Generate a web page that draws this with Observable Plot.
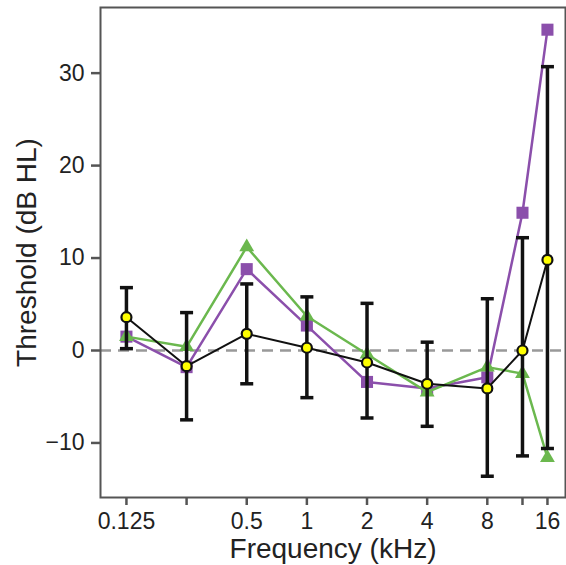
<!DOCTYPE html>
<html>
<head>
<meta charset="utf-8">
<script src="https://cdn.jsdelivr.net/npm/d3@7"></script>
<script src="https://cdn.jsdelivr.net/npm/@observablehq/plot@0.6"></script>
<style>
  html, body { margin: 0; padding: 0; background: #fff; }
  svg { display: block; }
</style>
</head>
<body>
<div id="chart"></div>
<script>
const freqs = [0.125, 0.25, 0.5, 1, 2, 4, 8, 12, 16];
const purpleVals = [1.5, -1.8, 8.8, 2.7, -3.4, -4.1, -2.9, 14.9, 34.7];
const greenVals = [1.5, 0.4, 11.2, 3.7, -0.4, -4.5, -1.8, -2.5, -11.6];
const meanVals = [3.6, -1.7, 1.8, 0.3, -1.3, -3.6, -4.1, 0.0, 9.8];
const errHigh = [6.8, 4.1, 7.2, 5.8, 5.1, 0.9, 5.6, 12.2, 30.7];
const errLow = [0.2, -7.5, -3.6, -5.1, -7.3, -8.2, -13.6, -11.4, -10.6];
const xTicks = [0.125, 0.25, 0.5, 1, 2, 4, 8, 12, 16];
const xLabeledTicks = [0.125, 0.5, 1, 2, 4, 8, 16];
const xTickLabels = ["0.125", "0.5", "1", "2", "4", "8", "16"];
const yTicks = [-10, 0, 10, 20, 30];
const xLabel = "Frequency (kHz)";
const yLabel = "Threshold (dB HL)";

const purple = freqs.map((f, i) => ({f, v: purpleVals[i]}));
const green = freqs.map((f, i) => ({f, v: greenVals[i]}));
const mean = freqs.map((f, i) => ({f, v: meanVals[i], hi: errHigh[i], lo: errLow[i]}));
const xLabelData = xLabeledTicks.map((t, i) => ({t, label: xTickLabels[i]}));

const capSymbol = {
  draw(context, size) {
    const r = Math.sqrt(size / Math.PI);
    context.moveTo(-r, 0);
    context.lineTo(r, 0);
  }
};

const font = "'Liberation Sans', Arial, sans-serif";

const chart = Plot.plot({
  width: 566,
  height: 565,
  marginLeft: 100,
  marginRight: 1,
  marginTop: 7,
  marginBottom: 68,
  style: {fontFamily: font, fontSize: "23px", color: "#222", background: "#fff"},
  x: {type: "log", domain: [0.0927, 19.7]},
  y: {domain: [-15.9, 37.1]},
  marks: [
    Plot.ruleY([0], {stroke: "#999", strokeWidth: 2.5, strokeDasharray: "11,7"}),
    Plot.line(purple, {x: "f", y: "v", stroke: "#8b4fab", strokeWidth: 2.5}),
    Plot.dot(purple, {x: "f", y: "v", symbol: "square", r: 6.8, fill: "#8b4fab"}),
    Plot.line(green, {x: "f", y: "v", stroke: "#6bb84e", strokeWidth: 2.5}),
    Plot.dot(green, {x: "f", y: "v", symbol: "triangle", r: 5.5, fill: "#6bb84e"}),
    Plot.ruleX(mean, {x: "f", y1: "lo", y2: "hi", stroke: "#111", strokeWidth: 3.5}),
    Plot.dot(mean, {x: "f", y: "hi", symbol: capSymbol, r: 6.5, stroke: "#111", strokeWidth: 3.5}),
    Plot.dot(mean, {x: "f", y: "lo", symbol: capSymbol, r: 6.5, stroke: "#111", strokeWidth: 3.5}),
    Plot.line(mean, {x: "f", y: "v", stroke: "#111", strokeWidth: 2}),
    Plot.dot(mean, {x: "f", y: "v", r: 5, fill: "#ffff00", stroke: "#111", strokeWidth: 2.2}),
    Plot.frame({stroke: "#555", strokeWidth: 2}),
    Plot.axisX({
      ticks: xTicks,
      tickFormat: () => " ",
      tickSize: 8,
      stroke: "#555",
      strokeWidth: 2.5,
      label: null
    }),
    Plot.text(xLabelData, {x: "t", text: "label", frameAnchor: "bottom", dy: 24, lineAnchor: "middle", textAnchor: "middle", fontSize: 23, fill: "#222"}),
    Plot.axisY({
      ticks: yTicks,
      tickFormat: d => d < 0 ? "\u2212" + Math.abs(d) : String(d),
      tickSize: 9,
      tickPadding: 7,
      stroke: "#555",
      strokeWidth: 2.5,
      fill: "#222",
      fontSize: 23,
      label: null
    }),
    Plot.text([xLabel], {frameAnchor: "bottom", dy: 52, lineAnchor: "middle", textAnchor: "middle", fontSize: 28, fill: "#222", text: d => d}),
    Plot.text([yLabel], {frameAnchor: "left", dx: -73, dy: 0, rotate: -90, lineAnchor: "middle", textAnchor: "middle", fontSize: 28, fill: "#222", text: d => d})
  ]
});

document.getElementById("chart").appendChild(chart);
</script>
</body>
</html>
